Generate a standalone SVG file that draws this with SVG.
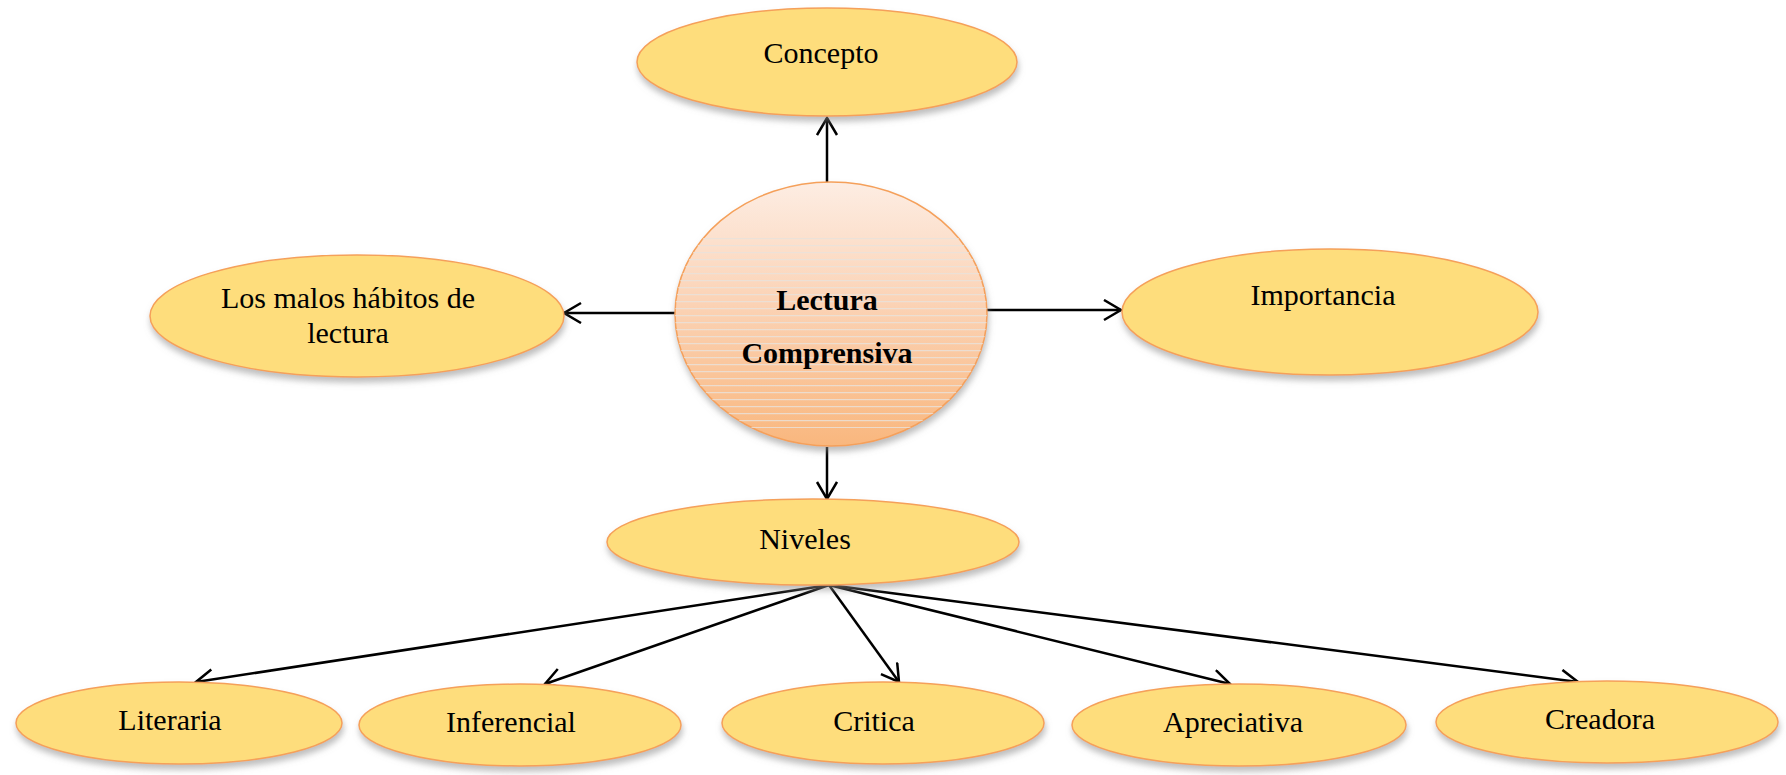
<svg xmlns="http://www.w3.org/2000/svg" width="1786" height="775" viewBox="0 0 1786 775">
<style>
.node ellipse.shape{fill:#FEDD7C;stroke:#F5A05A;stroke-width:1.5;filter:url(#sh);}
.lbl{font-family:"Liberation Serif","Times New Roman",serif;font-size:30px;fill:#000;text-anchor:middle;}
.bold{font-weight:bold;}
.conn line{stroke:#000;stroke-width:2.5;fill:none;marker-end:url(#arr);}
</style>
<defs>
<filter id="sh" x="-10%" y="-20%" width="120%" height="150%">
<feDropShadow dx="1" dy="5" stdDeviation="3" flood-color="#888" flood-opacity="0.55"/>
</filter>
<linearGradient id="cg" x1="0" y1="0" x2="0" y2="1">
<stop offset="0" stop-color="#FDEDE3"/>
<stop offset="0.45" stop-color="#FBD3B6"/>
<stop offset="1" stop-color="#F9B77E"/>
</linearGradient>
<pattern id="stripes" patternUnits="userSpaceOnUse" width="20" height="7">
<rect x="0" y="0" width="20" height="1.2" fill="#E8E2DC" opacity="0.8"/>
</pattern>
<clipPath id="cclip"><ellipse cx="831" cy="314" rx="156" ry="132"/></clipPath>
<marker id="arr" markerUnits="userSpaceOnUse" markerWidth="24" markerHeight="24" refX="18" refY="11" orient="auto">
<path d="M1,1 L18,11 L1,21" fill="none" stroke="#000" stroke-width="2.5"/>
</marker>
</defs>
<g class="conn">
<line x1="827" y1="183" x2="827" y2="118"/>
<line x1="676" y1="313" x2="564" y2="313"/>
<line x1="986" y1="310" x2="1121" y2="310"/>
<line x1="827" y1="447" x2="827" y2="499"/>
<line x1="829" y1="585" x2="196" y2="682"/>
<line x1="829" y1="585" x2="545" y2="684"/>
<line x1="829" y1="585" x2="899" y2="682"/>
<line x1="829" y1="585" x2="1230" y2="684"/>
<line x1="829" y1="585" x2="1578" y2="682"/>
</g>
<g id="n-central">
<ellipse cx="831" cy="314" rx="156" ry="132" fill="url(#cg)" stroke="#F5A05A" stroke-width="1.5" filter="url(#sh)"/>
<rect x="675" y="238" width="312" height="190" fill="url(#stripes)" clip-path="url(#cclip)"/>
<text class="lbl bold" x="827" y="310">Lectura</text>
<text class="lbl bold" x="827" y="363">Comprensiva</text>
</g>
<g id="n-concepto" class="node">
<ellipse class="shape" cx="827" cy="62" rx="190" ry="54"/>
<text class="lbl" x="821" y="63">Concepto</text>
</g>
<g id="n-malos" class="node">
<ellipse class="shape" cx="357" cy="316" rx="207" ry="61"/>
<text class="lbl" x="348" y="308">Los malos hábitos de</text>
<text class="lbl" x="348" y="343">lectura</text>
</g>
<g id="n-importancia" class="node">
<ellipse class="shape" cx="1330" cy="312" rx="208" ry="63"/>
<text class="lbl" x="1323" y="305">Importancia</text>
</g>
<g id="n-niveles" class="node">
<ellipse class="shape" cx="813" cy="542" rx="206" ry="43"/>
<text class="lbl" x="805" y="549">Niveles</text>
</g>
<g id="n-literaria" class="node">
<ellipse class="shape" cx="179" cy="723" rx="163" ry="41"/>
<text class="lbl" x="170" y="730">Literaria</text>
</g>
<g id="n-inferencial" class="node">
<ellipse class="shape" cx="520" cy="725" rx="161" ry="41"/>
<text class="lbl" x="511" y="732">Inferencial</text>
</g>
<g id="n-critica" class="node">
<ellipse class="shape" cx="883" cy="723" rx="161" ry="41"/>
<text class="lbl" x="874" y="731">Critica</text>
</g>
<g id="n-apreciativa" class="node">
<ellipse class="shape" cx="1239" cy="725" rx="167" ry="41"/>
<text class="lbl" x="1233" y="732">Apreciativa</text>
</g>
<g id="n-creadora" class="node">
<ellipse class="shape" cx="1607" cy="722" rx="171" ry="41"/>
<text class="lbl" x="1600" y="729">Creadora</text>
</g>
</svg>
